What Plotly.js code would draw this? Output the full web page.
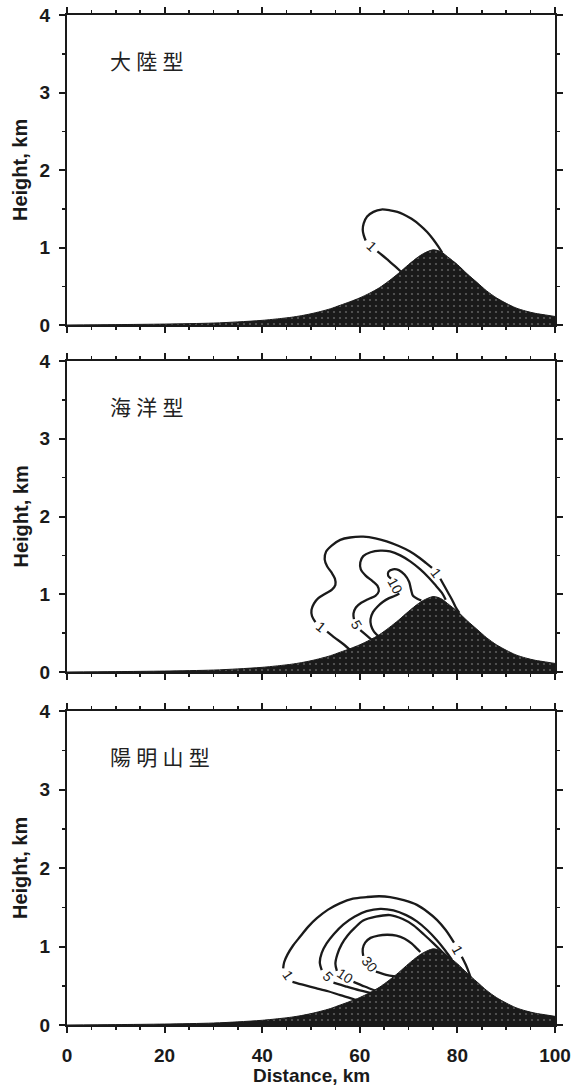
<!DOCTYPE html>
<html>
<head>
<meta charset="utf-8">
<script src="https://cdn.plot.ly/plotly-3.0.1.min.js"></script>
<style>
html,body{margin:0;padding:0;background:#fff;}
#chart{width:574px;height:1085px;}
</style>
</head>
<body>
<div id="chart"></div>
<script>
// ---------------- data ----------------
const mountainX = [0, 10, 20, 30, 35, 40, 44, 46, 48, 50, 52, 54, 56, 58, 60, 62, 64, 66, 68, 70, 72, 73, 74, 75, 76, 77, 78, 80, 82, 84, 86, 88, 90, 92, 94, 96, 98, 100];
const mountainH = [0, 0.005, 0.012, 0.025, 0.04, 0.06, 0.085, 0.10, 0.12, 0.145, 0.175, 0.21, 0.255, 0.30, 0.35, 0.41, 0.48, 0.57, 0.67, 0.78, 0.88, 0.92, 0.95, 0.97, 0.96, 0.93, 0.88, 0.78, 0.66, 0.55, 0.44, 0.35, 0.28, 0.22, 0.18, 0.15, 0.13, 0.11];

const panelTitles = ['大陸型', '海洋型', '陽明山型'];
const xTitle = 'Distance, km';
const yTitle = 'Height, km';

// panel 1 (大陸型): contour 1
const p1c1X = [68.4, 67.2, 65.9, 64.6, 63.6, null, 61.2, 60.8, 60.6, 60.8, 61.5, 62.8, 64.4, 66.2, 67.7, 68.9, 70.6, 72.3, 73.8, 75.1, 76.1, 76.9];
const p1c1Y = [0.69, 0.76, 0.83, 0.90, 0.95, null, 1.09, 1.16, 1.23, 1.31, 1.40, 1.46, 1.49, 1.48, 1.46, 1.43, 1.37, 1.29, 1.20, 1.10, 1.01, 0.93];
const p1c1Labels = ['1'];

// panel 2 (海洋型): contours 1, 5, 10
const p2c1X = [58.4, 56.6, 54.9, 53.3, null, 50.9, 50.2, 50.1, 50.6, 51.5, 53.0, 54.3, 55.0, 54.9, 54.2, 53.3, 52.8, 53.1, 54.3, 56.0, 58.0, 60.7, 63.2, 65.5, 68.0, 70.3, 72.2, 73.6, 74.8, null, 76.5, 77.3, 78.1, 78.9, 79.6, 80.4];
const p2c1Y = [0.26, 0.36, 0.44, 0.52, null, 0.64, 0.72, 0.80, 0.88, 0.95, 1.01, 1.06, 1.12, 1.20, 1.28, 1.36, 1.45, 1.55, 1.63, 1.70, 1.73, 1.74, 1.72, 1.68, 1.62, 1.55, 1.47, 1.40, 1.34, null, 1.20, 1.11, 1.02, 0.93, 0.84, 0.76];
const p2c1Labels = ['1', '1'];
const p2c5X = [62.5, 61.2, 60.1, null, 58.8, 58.7, 59.2, 60.3, 61.8, 63.2, 63.9, 63.6, 62.6, 61.2, 60.2, 60.1, 60.7, 62.2, 64.2, 66.2, 68.3, 70.4, 72.4, 74.2, 75.6, 76.8, 77.6];
const p2c5Y = [0.41, 0.48, 0.54, null, 0.68, 0.75, 0.83, 0.89, 0.94, 0.98, 1.04, 1.11, 1.17, 1.24, 1.32, 1.41, 1.49, 1.54, 1.56, 1.55, 1.50, 1.42, 1.32, 1.21, 1.11, 1.02, 0.93];
const p2c5Labels = ['5'];
const p2c10X = [63.8, 62.9, 62.3, 62.2, 62.7, 63.6, 64.7, 66.0, 67.2, 68.1, null, 66.4, 65.8, 65.9, 66.8, 68.0, 69.2, 70.1, 70.5, 70.9, 71.6, 72.6];
const p2c10Y = [0.46, 0.52, 0.60, 0.68, 0.77, 0.84, 0.90, 0.95, 0.98, 1.01, null, 1.20, 1.24, 1.29, 1.32, 1.31, 1.25, 1.16, 1.06, 0.98, 0.95, 0.92];
const p2c10Labels = ['10'];

// panel 3 (陽明山型): contours 1, 5, 10, 30
const p3c1X = [60.0, 58.2, 56.0, 53.5, 51.0, 48.5, 46.2, null, 44.3, 44.5, 45.2, 46.3, 47.7, 49.4, 51.2, 53.5, 55.9, 58.6, 61.4, 64.0, 66.2, 69.0, 71.7, 73.9, 75.8, 77.6, 79.3, null, 80.9, 81.7, 82.4, 82.9];
const p3c1Y = [0.30, 0.34, 0.38, 0.43, 0.47, 0.51, 0.55, null, 0.72, 0.80, 0.90, 1.01, 1.12, 1.25, 1.36, 1.47, 1.55, 1.61, 1.63, 1.64, 1.63, 1.59, 1.53, 1.44, 1.34, 1.21, 1.05, null, 0.87, 0.77, 0.66, 0.57];
const p3c1Labels = ['1', '1'];
const p3c5X = [62.8, 60.0, 57.2, 54.6, null, 52.2, 51.8, 52.2, 53.2, 54.7, 56.6, 58.9, 61.4, 64.2, 66.9, 69.5, 71.7, 73.8, 75.8, 77.5, 78.9];
const p3c5Y = [0.40, 0.44, 0.49, 0.54, null, 0.70, 0.80, 0.92, 1.04, 1.16, 1.28, 1.38, 1.45, 1.48, 1.46, 1.40, 1.32, 1.21, 1.08, 0.95, 0.83];
const p3c5Labels = ['5'];
const p3c10X = [63.5, 61.0, 58.7, null, 55.3, 55.0, 55.4, 56.3, 57.5, 59.0, 60.7, 63.3, 66.2, 68.8, 71.0, 73.2, 75.1, 76.9, 78.3];
const p3c10Y = [0.43, 0.49, 0.55, null, 0.69, 0.78, 0.90, 1.03, 1.14, 1.24, 1.33, 1.38, 1.40, 1.35, 1.27, 1.15, 1.04, 0.93, 0.84];
const p3c10Labels = ['10'];
const p3c30X = [67.2, 65.4, 63.3, null, 60.7, 60.6, 61.1, 62.2, 63.8, 65.6, 67.5, 69.2, 70.6, 71.6, 72.4];
const p3c30Y = [0.62, 0.64, 0.68, null, 0.88, 0.97, 1.05, 1.11, 1.14, 1.15, 1.14, 1.10, 1.04, 0.98, 0.93];
const p3c30Labels = ['30'];

// ---------------- layout geometry ----------------
const W = 574, H = 1085;
const plotLeft = 67, plotRight = 555;
const panelPx = [[15, 325], [361, 672], [711, 1025]];
const xRange = [0, 100], yRange = [0, 4];
const ink = '#1a1a1a';
const latin = 'Liberation Sans, Arial, Helvetica, sans-serif';
const cjk = 'Noto Sans CJK TC, Noto Sans CJK SC, sans-serif';

const panels = [
  {contours: [[p1c1X, p1c1Y, p1c1Labels]]},
  {contours: [[p2c1X, p2c1Y, p2c1Labels], [p2c5X, p2c5Y, p2c5Labels], [p2c10X, p2c10Y, p2c10Labels]]},
  {contours: [[p3c1X, p3c1Y, p3c1Labels], [p3c5X, p3c5Y, p3c5Labels], [p3c10X, p3c10Y, p3c10Labels], [p3c30X, p3c30Y, p3c30Labels]]}
];

const traces = [];
const annotations = [];
const layout = {
  width: W, height: H,
  margin: {l: 0, r: 0, t: 0, b: 0},
  paper_bgcolor: '#fff', plot_bgcolor: '#fff',
  showlegend: false,
  annotations: annotations
};

panels.forEach((p, i) => {
  const n = i + 1;
  const xa = n === 1 ? 'x' : 'x' + n;
  const ya = n === 1 ? 'y' : 'y' + n;
  const [top, bot] = panelPx[i];
  const pxX = (plotRight - plotLeft) / (xRange[1] - xRange[0]);
  const pxY = (bot - top) / (yRange[1] - yRange[0]);

  // contour lines
  p.contours.forEach(([cx, cy, labels]) => {
    traces.push({
      type: 'scatter', mode: 'lines', x: cx, y: cy, xaxis: xa, yaxis: ya,
      line: {color: ink, width: 2.3, shape: 'spline', smoothing: 0.9},
      connectgaps: false, hoverinfo: 'skip'
    });
    let k = 0;
    for (let j = 0; j < cx.length; j++) {
      if (cx[j] === null) {
        const x1 = cx[j - 1], y1 = cy[j - 1], x2 = cx[j + 1], y2 = cy[j + 1];
        let ang = Math.atan2(-(y2 - y1) * pxY, (x2 - x1) * pxX) * 180 / Math.PI;
        if (ang > 90) ang -= 180;
        if (ang <= -90) ang += 180;
        annotations.push({
          xref: xa, yref: ya, x: (x1 + x2) / 2, y: (y1 + y2) / 2,
          text: labels[k++], showarrow: false, textangle: ang,
          xanchor: 'center', yanchor: 'middle',
          font: {family: latin, size: 14, color: ink}
        });
      }
    }
  });

  // mountain (drawn after contours so it hides their ends)
  traces.push({
    type: 'scatter', mode: 'lines', x: mountainX, y: mountainH, xaxis: xa, yaxis: ya,
    fill: 'tozeroy', fillcolor: '#1c1c1c',
    fillpattern: {shape: '.', bgcolor: '#1a1a1a', fgcolor: '#5c5c5c', size: 6, solidity: 0.1},
    line: {color: '#1a1a1a', width: 1, shape: 'spline', smoothing: 0.8},
    hoverinfo: 'skip'
  });

  const common = {
    showline: true, linewidth: 2, linecolor: ink, mirror: 'ticks',
    ticks: 'outside', ticklen: 6, tickwidth: 2, tickcolor: ink,
    showgrid: false, zeroline: false, fixedrange: true,
    tickfont: {family: latin, size: 19, weight: 'bold', color: ink}
  };
  layout['xaxis' + (n === 1 ? '' : n)] = Object.assign({}, common, {
    domain: [plotLeft / W, plotRight / W], range: xRange, anchor: ya,
    tick0: 0, dtick: 20, showticklabels: n === 3, ticklabelstandoff: 6,
    minor: {dtick: 5, ticks: 'outside', ticklen: 3, tickwidth: 1.5, tickcolor: ink}
  });
  layout['yaxis' + (n === 1 ? '' : n)] = Object.assign({}, common, {
    domain: [1 - bot / H, 1 - top / H], range: yRange, anchor: xa,
    tick0: 0, dtick: 1, ticklabelstandoff: 5,
    minor: {dtick: 0.5, ticks: 'outside', ticklen: 3, tickwidth: 1.5, tickcolor: ink}
  });

  // panel title (Chinese)
  annotations.push({
    xref: 'paper', yref: 'paper', x: 108 / W, y: 1 - (top + 45) / H,
    xanchor: 'left', yanchor: 'middle', showarrow: false,
    text: panelTitles[i].split('').join('\u2005'),
    font: {family: cjk, size: 21, color: '#222'}
  });
  // y title
  annotations.push({
    xref: 'paper', yref: 'paper', x: 20 / W, y: 1 - (top + bot) / 2 / H,
    xanchor: 'center', yanchor: 'middle', showarrow: false, textangle: -90,
    text: yTitle, font: {family: latin, size: 20, weight: 'bold', color: ink}
  });
});

// x title
annotations.push({
  xref: 'paper', yref: 'paper', x: (plotLeft + plotRight) / 2 / W, y: 1 - 1075 / H,
  xanchor: 'center', yanchor: 'middle', showarrow: false,
  text: xTitle, font: {family: latin, size: 19, weight: 'bold', color: ink}
});

Plotly.newPlot('chart', traces, layout, {displayModeBar: false, staticPlot: true});
</script>
</body>
</html>
